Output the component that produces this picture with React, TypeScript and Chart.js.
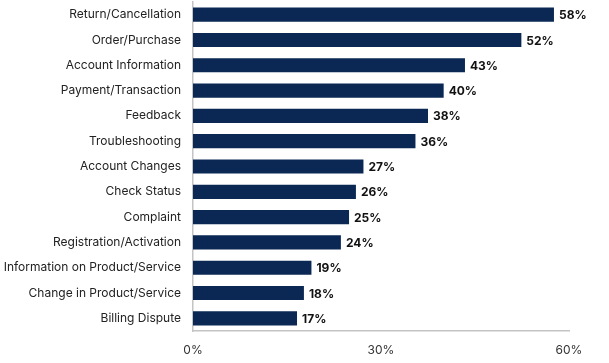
import React, { useEffect, useRef } from "react";
import { Chart, registerables } from "chart.js";

Chart.register(...registerables);

const categories = [
  "Return/Cancellation",
  "Order/Purchase",
  "Account Information",
  "Payment/Transaction",
  "Feedback",
  "Troubleshooting",
  "Account Changes",
  "Check Status",
  "Complaint",
  "Registration/Activation",
  "Information on Product/Service",
  "Change in Product/Service",
  "Billing Dispute",
];

const values = [57.6, 52.4, 43.4, 40.0, 37.5, 35.5, 27.2, 26.0, 24.9, 23.6, 18.9, 17.7, 16.6];

const xTicks = [0, 30, 60];

const FONT = "Inter, 'Noto Sans', sans-serif";

const valueLabels = {
  id: "valueLabels",
  afterDatasetsDraw(chart: any) {
    const ctx = chart.ctx;
    const meta = chart.getDatasetMeta(0);
    ctx.save();
    ctx.font = `bold 12px ${FONT}`;
    ctx.fillStyle = "#111111";
    ctx.textAlign = "left";
    ctx.textBaseline = "middle";
    meta.data.forEach((bar: any, i: number) => {
      const v = chart.data.datasets[0].data[i];
      ctx.fillText(Math.round(v) + "%", bar.x + 5, bar.y + 1);
    });
    ctx.restore();
  },
};

export default function App() {
  const ref = useRef<HTMLCanvasElement | null>(null);
  useEffect(() => {
    document.body.style.margin = "0";
    const canvas = ref.current!;
    const chart = new Chart(canvas, {
      type: "bar",
      data: {
        labels: categories,
        datasets: [
          {
            data: values,
            backgroundColor: "#0b2854",
            borderWidth: 0,
            barPercentage: 0.56,
            categoryPercentage: 1,
          },
        ],
      },
      options: {
        indexAxis: "y",
        responsive: false,
        animation: false,
        layout: { padding: { left: 0, right: 40, top: 2, bottom: 0 } },
        plugins: {
          legend: { display: false },
          tooltip: { enabled: false },
        },
        scales: {
          x: {
            min: 0,
            max: 60,
            afterBuildTicks: (axis: any) => {
              axis.ticks = xTicks.map((v) => ({ value: v }));
            },
            afterFit: (axis: any) => {
              axis.height = 32;
              axis.paddingLeft = 0;
              axis.paddingRight = 0;
            },
            ticks: {
              callback: (v: any) => v + "%",
              font: { family: FONT, size: 12 },
              color: "#333333",
              padding: 12,
              maxRotation: 0,
            },
            grid: { display: false, drawTicks: false },
            border: { display: true, color: "#c4c4c4", width: 1.5 },
          },
          y: {
            afterFit: (axis: any) => {
              axis.width = 193;
              axis.paddingTop = 0;
              axis.paddingBottom = 0;
            },
            ticks: {
              font: { family: FONT, size: 12 },
              color: "#222222",
              padding: 12,
              autoSkip: false,
            },
            grid: { display: false, drawTicks: false },
            border: { display: true, color: "#c4c4c4", width: 1.5 },
          },
        },
      },
      plugins: [valueLabels],
    });
    return () => chart.destroy();
  }, []);
  return <canvas ref={ref} width={609} height={363} style={{ display: "block" }} />;
}
